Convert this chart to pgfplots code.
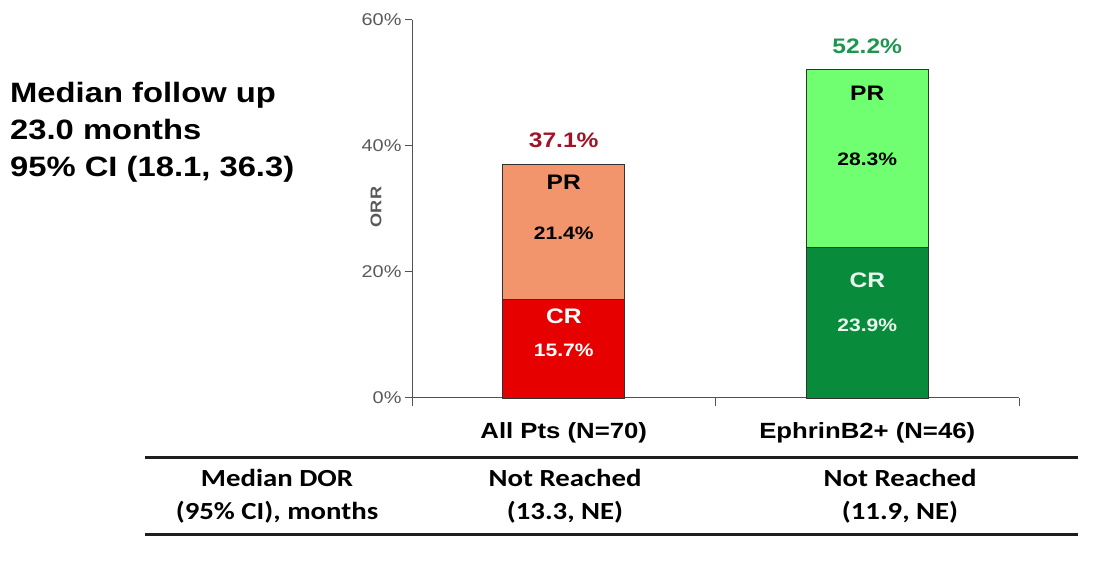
\documentclass[border=0pt]{standalone}
\usepackage{fontspec}
\setmainfont{Liberation Sans}[FakeStretch=1.17]
\newfontfamily\tablefont{Carlito}[FakeStretch=1.17]
\usepackage{pgfplots}
\pgfplotsset{compat=1.18}

\definecolor{crRed}{RGB}{230,0,0}
\definecolor{prOrange}{RGB}{242,148,108}
\definecolor{crGreen}{RGB}{8,140,60}
\definecolor{prGreen}{RGB}{112,255,112}
\definecolor{totRed}{RGB}{160,20,40}
\definecolor{totGreen}{RGB}{30,150,80}
\definecolor{tickGray}{RGB}{89,89,89}
\definecolor{axisGray}{RGB}{80,80,95}
\definecolor{edgeGray}{RGB}{50,50,50}
\definecolor{ruleGray}{RGB}{30,30,30}

\newcommand\fs[1]{\fontsize{#1}{#1}\selectfont}

\begin{document}
\begin{tikzpicture}[x=1pt,y=1pt]
\path[use as bounding box] (0,0) rectangle (1119,564);

% follow-up note
\node[anchor=base west, font=\bfseries\fs{28}, inner sep=0] at (10,461) {Median follow up};
\node[anchor=base west, font=\bfseries\fs{28}, inner sep=0] at (10,424) {23.0 months};
\node[anchor=base west, font=\bfseries\fs{28}, inner sep=0] at (10,387) {95\% CI (18.1, 36.3)};

\begin{axis}[
  at={(412pt,166pt)}, anchor=south west,
  scale only axis, width=607pt, height=378pt,
  xmin=-0.5, xmax=1.5, ymin=0, ymax=60,
  axis lines*=left,
  axis line style={draw=axisGray, line width=1pt},
  ybar stacked, bar width=122pt,
  ytick={0,20,40,60}, yticklabels={0\%,20\%,40\%,60\%},
  yticklabel style={font=\fs{17}, text=tickGray},
  xtick={0,1}, xticklabels={All Pts (N=70), EphrinB2+ (N=46)},
  xticklabel style={font=\bfseries\fs{22}, text=black, yshift=-14pt},
  minor xtick={-0.5,0.5,1.5},
  tick align=outside,
  major tick length=7pt, minor tick length=8pt,
  major y tick style={draw=axisGray, line width=1pt},
  major x tick style={draw=none},
  minor x tick style={draw=axisGray, line width=1pt},
  clip=false,
]
% CR, all patients
\addplot[fill=crRed, draw=edgeGray, line width=0.8pt] coordinates {(0,15.7) (1,0)};
% PR, all patients
\addplot[fill=prOrange, draw=edgeGray, line width=0.8pt] coordinates {(0,21.4) (1,0)};
% CR, EphrinB2+
\addplot[fill=crGreen, draw=edgeGray, line width=0.8pt] coordinates {(0,0) (1,23.9)};
% PR, EphrinB2+
\addplot[fill=prGreen, draw=edgeGray, line width=0.8pt] coordinates {(0,0) (1,28.3)};

% anchor points for the labels, written on top of the bars afterwards
\coordinate (totA) at (axis cs:0,37.1);
\coordinate (totB) at (axis cs:1,52.2);
\coordinate (prA)  at (axis cs:0,34.2);
\coordinate (prvA) at (axis cs:0,26.1);
\coordinate (crA)  at (axis cs:0,13.0);
\coordinate (crvA) at (axis cs:0,7.5);
\coordinate (prB)  at (axis cs:1,48.4);
\coordinate (prvB) at (axis cs:1,37.9);
\coordinate (crB)  at (axis cs:1,18.7);
\coordinate (crvB) at (axis cs:1,11.6);
\end{axis}

% totals
\node[anchor=base, font=\bfseries\fs{21}, text=totRed, yshift=17pt] at (totA) {37.1\%};
\node[anchor=base, font=\bfseries\fs{21}, text=totGreen, yshift=16pt] at (totB) {52.2\%};

% segment labels
\node[font=\bfseries\fs{21}, text=black] at (prA) {PR};
\node[font=\bfseries\fs{18}, text=black] at (prvA) {21.4\%};
\node[font=\bfseries\fs{21}, text=white] at (crA) {CR};
\node[font=\bfseries\fs{18}, text=white] at (crvA) {15.7\%};
\node[font=\bfseries\fs{21}, text=black] at (prB) {PR};
\node[font=\bfseries\fs{18}, text=black] at (prvB) {28.3\%};
\node[font=\bfseries\fs{21}, text=white!92!crGreen] at (crB) {CR};
\node[font=\bfseries\fs{18}, text=white!92!crGreen] at (crvB) {23.9\%};

% y axis title
\node[rotate=90, font=\bfseries\fs{15.5}, text=tickGray] at (376,357) {ORR};

% duration of response table
\draw[draw=ruleGray, line width=3pt] (145,106) -- (1078,106);
\draw[draw=ruleGray, line width=3pt] (145,29) -- (1078,29);
\begin{scope}[every node/.style={anchor=base, font=\tablefont\bfseries\fs{24.6}, inner sep=0}]
\node at (277,77) {Median DOR};
\node at (277,44) {(95\% CI), months};
\node at (565,77) {Not Reached};
\node at (565,44) {(13.3, NE)};
\node at (900,77) {Not Reached};
\node at (900,44) {(11.9, NE)};
\end{scope}
\end{tikzpicture}
\end{document}
